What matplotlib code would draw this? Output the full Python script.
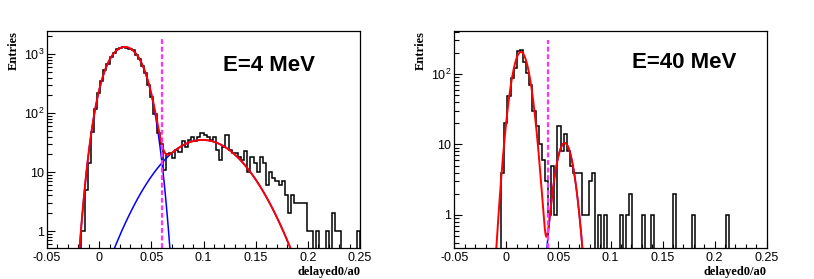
import numpy as np
import matplotlib
matplotlib.use("Agg")
import matplotlib.pyplot as plt
from matplotlib.ticker import FixedLocator, FixedFormatter, MultipleLocator, NullFormatter

plt.rcParams["font.family"] = ["Liberation Sans", "DejaVu Sans"]

# 100 bins from -0.05 to 0.25 (width 0.003)
bin_edges = np.linspace(-0.05, 0.25, 101)

counts_4mev = [
    0, 0, 0, 0, 0, 0, 0, 0, 0, 0,
    0, 1, 5, 14, 48, 115, 220, 350, 540, 690,
    900, 1040, 1200, 1270, 1330, 1290, 1230, 1160, 980, 840,
    630, 470, 300, 190, 95, 45, 30, 11, 20, 21,
    17, 24, 22, 33, 27, 35, 40, 33, 40, 46,
    42, 40, 35, 40, 24, 16, 27, 43, 24, 21,
    21, 18, 16, 23, 10, 18, 14, 10, 18, 14,
    6, 10, 8, 7, 6, 7, 4, 2, 4, 3,
    3, 3, 3, 1, 1, 0, 1, 0, 0, 1,
    0, 2, 1, 1, 0, 0, 0, 0, 0, 1,
]

counts_40mev = [
    0, 0, 0, 0, 0, 0, 0, 0, 0, 0,
    0, 0, 0, 0, 0, 4, 20, 48, 87, 120,
    214, 216, 150, 102, 70, 30, 18, 10, 6, 3,
    1, 5, 1, 18, 8, 14, 8, 5, 4, 4,
    4, 1, 1, 3, 4, 0, 1, 0, 1, 0,
    0, 0, 0, 1, 0, 1, 2, 0, 0, 0,
    1, 0, 0, 1, 0, 0, 0, 0, 0, 0,
    2, 0, 0, 0, 0, 0, 1, 0, 0, 0,
    0, 0, 0, 0, 0, 0, 0, 1, 0, 0,
    0, 0, 0, 0, 0, 0, 0, 0, 0, 0,
]

# fit components: amplitude, mean, quadratic and quartic log10 fall-off
fit_4mev_peak = [1320, 0.0245, 933, 474000]
fit_4mev_tail = [35, 0.099, 258, 0]
fit_40mev_peak = [205, 0.014, 4982, 0]
fit_40mev_second = [10.5, 0.056, 5136, 0]

cut_4mev = 0.06
cut_40mev = 0.04


def fit_shape(x, p):
    amp, mean, b, c = p
    d = x - mean
    return amp * 10 ** (-(b * d**2 + c * d**4))


def style_axis(ax, ymin, ymax, ylabels):
    ax.set_xlim(-0.05, 0.25)
    ax.set_yscale("log")
    ax.set_ylim(ymin, ymax)
    for s in ax.spines.values():
        s.set_linewidth(0.9)
    ax.xaxis.set_major_locator(MultipleLocator(0.05))
    ax.xaxis.set_minor_locator(MultipleLocator(0.01))
    ax.set_xticks([-0.05, 0, 0.05, 0.1, 0.15, 0.2, 0.25])
    ax.set_xticklabels(["-0.05", "0", "0.05", "0.1", "0.15", "0.2", "0.25"])
    major = [10.0**i for i in range(len(ylabels))]
    ax.yaxis.set_major_locator(FixedLocator(major))
    ax.yaxis.set_major_formatter(FixedFormatter(ylabels))
    minor = [m * 10.0**e for e in range(-1, 4) for m in range(2, 10)]
    ax.yaxis.set_minor_locator(FixedLocator(minor))
    ax.yaxis.set_minor_formatter(NullFormatter())
    ax.tick_params(which="both", direction="in", top=False, right=False,
                   labelsize=9, width=0.8)
    ax.tick_params(axis="x", which="major", length=5, pad=3)
    ax.tick_params(axis="x", which="minor", length=3)
    ax.tick_params(axis="y", which="major", length=6, pad=2)
    ax.tick_params(axis="y", which="minor", length=3.5)
    ax.set_ylabel("Entries", family="Liberation Serif", fontweight="bold",
                  fontsize=9, loc="top", labelpad=3)
    ax.set_xlabel("delayed0/a0", family="Liberation Serif", fontweight="bold",
                  fontsize=9, loc="right", labelpad=1)


def draw_panel(ax, counts, ymin, ymax, fits, red_range, blue_specs, cut, cut_top,
               label, label_pos, ylabels):
    counts = np.asarray(counts, dtype=float)
    shown = np.where(counts > 0, counts, ymin * 1e-3)
    ax.stairs(shown, bin_edges, color="black", linewidth=1.1, baseline=ymin * 1e-3)

    for comp, (lo, hi) in blue_specs:
        xb = np.linspace(lo, hi, 400)
        ax.plot(xb, fit_shape(xb, comp), color="blue", linewidth=1.1)

    xr = np.linspace(red_range[0], red_range[1], 800)
    yr = sum(fit_shape(xr, f) for f in fits)
    ax.plot(xr, yr, color="red", linewidth=1.4)

    ax.plot([cut, cut], [ymin, cut_top], color="#ff33ff", linewidth=1.6,
            dashes=(2.2, 1.2))

    ax.text(label_pos[0], label_pos[1], label, transform=ax.transAxes,
            fontsize=16, fontweight="bold", va="center", ha="left")
    style_axis(ax, ymin, ymax, ylabels)


fig = plt.figure(figsize=(8.14, 2.79), dpi=100)
W, H = 814.0, 279.0
ax1 = fig.add_axes([47 / W, 1 - 248 / H, 313 / W, 217 / H])
ax2 = fig.add_axes([454.3 / W, 1 - 248 / H, 312.4 / W, 217 / H])

draw_panel(ax1, counts_4mev, 0.515, 2460,
           [fit_4mev_peak, fit_4mev_tail], (-0.019, 0.2),
           [(fit_4mev_peak, (-0.03, 0.08)), (fit_4mev_tail, (0.0, 0.2))],
           cut_4mev, 1950, "E=4 MeV", (0.562, 0.843),
           ["1", "10", r"$\mathregular{10^{2}}$", r"$\mathregular{10^{3}}$"])

draw_panel(ax2, counts_40mev, 0.34, 407,
           [fit_40mev_peak, fit_40mev_second], (-0.012, 0.08),
           [(fit_40mev_second, (0.03, 0.08))],
           cut_40mev, 300, "E=40 MeV", (0.568, 0.857),
           ["1", "10", r"$\mathregular{10^{2}}$"])

fig.savefig("out.png", dpi=100)
